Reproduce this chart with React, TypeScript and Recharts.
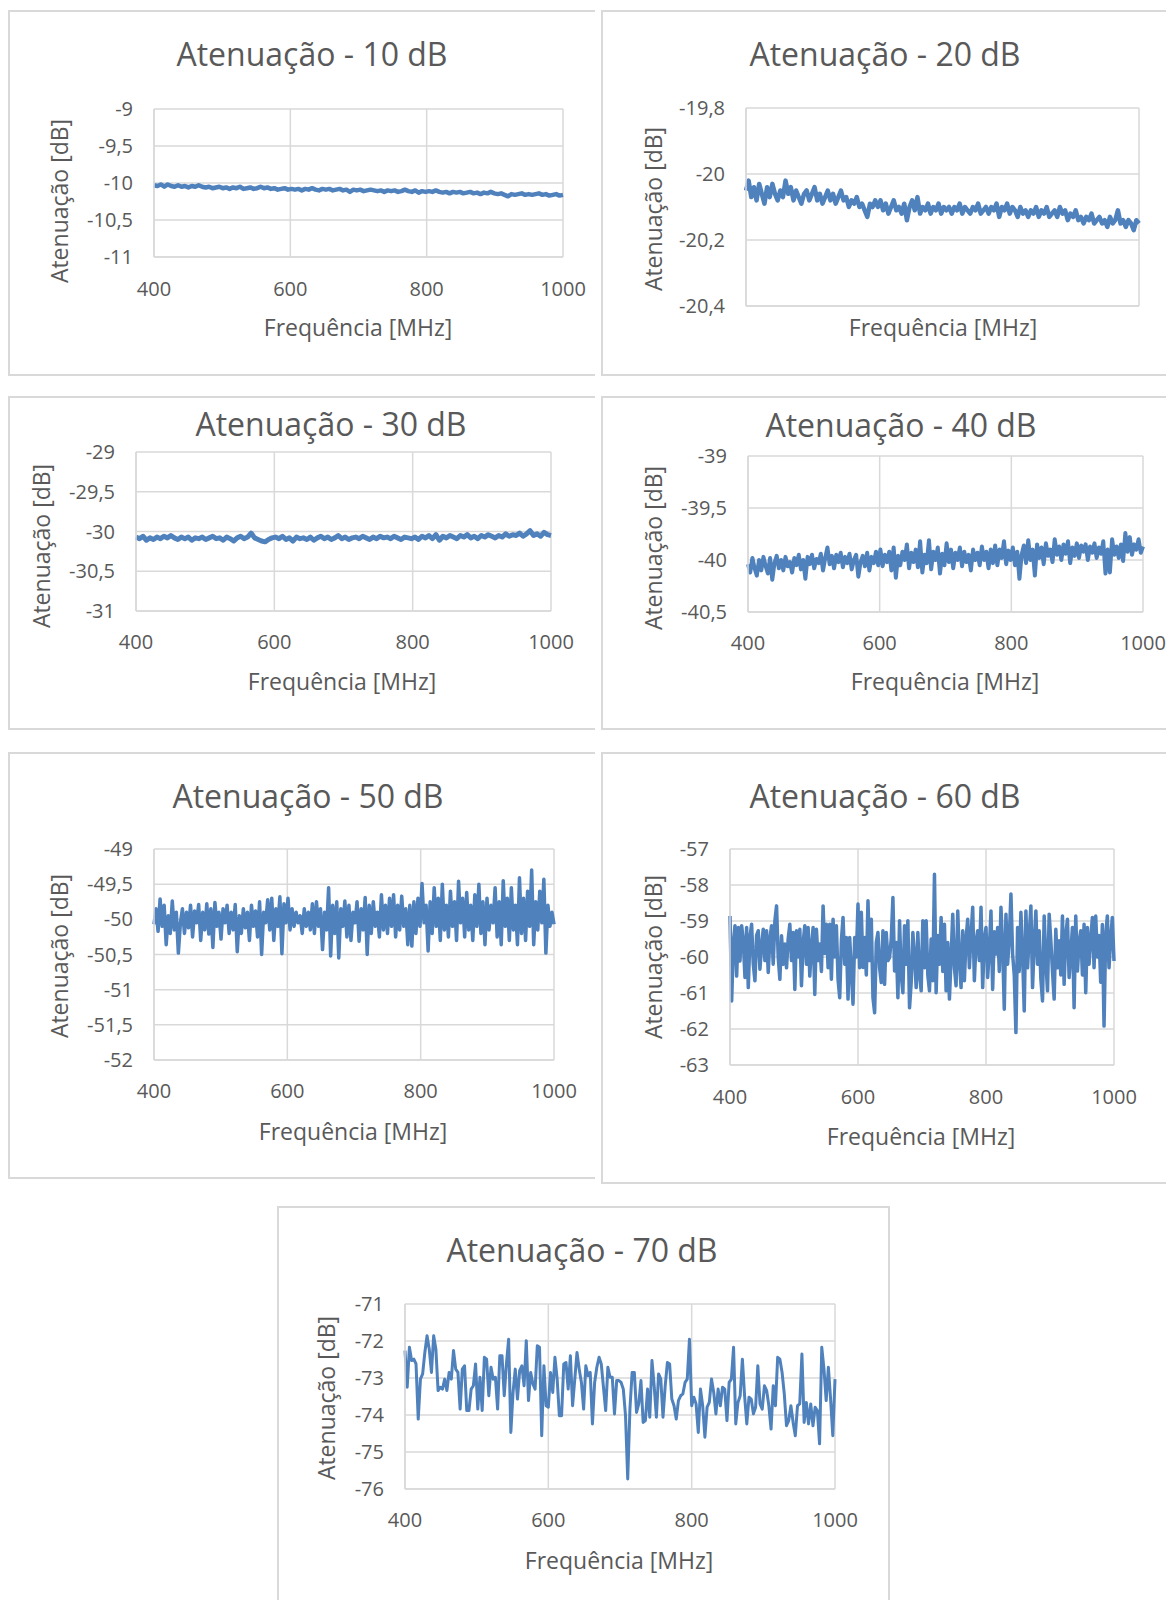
import React from "react";
import { LineChart, Line, XAxis, YAxis, CartesianGrid } from "recharts";

// frequency sweep used for every measurement (MHz)
const FREQ_START = 400;
const FREQ_STOP = 1000;
const FREQ_TICKS = [400, 600, 800, 1000];

const att10 = [
  -10.03, -10.04, -10.02, -10.05, -10.02, -10.04, -10.05, -10.03, -10.05, -10.04, -10.06, -10.04, -10.05, -10.03,
  -10.05, -10.06, -10.05, -10.07, -10.06, -10.05, -10.07, -10.06, -10.08, -10.06, -10.07, -10.05, -10.08, -10.07,
  -10.06, -10.08, -10.07, -10.05, -10.07, -10.06, -10.08, -10.07, -10.09, -10.08, -10.07, -10.09,
  -10.08, -10.09, -10.08, -10.1, -10.08, -10.09, -10.07, -10.09, -10.1, -10.08, -10.09, -10.08, -10.1, -10.09,
  -10.08, -10.1, -10.09, -10.12, -10.09, -10.1, -10.09, -10.11, -10.1, -10.09, -10.1, -10.11, -10.1, -10.12,
  -10.1, -10.11, -10.1, -10.12, -10.11, -10.09, -10.11, -10.12, -10.1, -10.13, -10.11, -10.12,
  -10.11, -10.12, -10.1, -10.12, -10.13, -10.12, -10.14, -10.12, -10.13, -10.12, -10.14, -10.13, -10.12, -10.14,
  -10.13, -10.15, -10.13, -10.14, -10.12, -10.14, -10.15, -10.14, -10.16, -10.18, -10.15, -10.16, -10.15, -10.14,
  -10.16, -10.15, -10.16, -10.15, -10.14, -10.16, -10.15, -10.17, -10.16, -10.15, -10.17, -10.16,
];

const att20 = [
  -20.05, -20.02, -20.07, -20.04, -20.08, -20.03, -20.06, -20.09, -20.04, -20.07, -20.03, -20.06, -20.08, -20.05,
  -20.07, -20.02, -20.06, -20.04, -20.08, -20.05, -20.07, -20.09, -20.06, -20.05, -20.08, -20.06, -20.04, -20.08,
  -20.06, -20.09, -20.07, -20.05, -20.08, -20.06, -20.09, -20.07, -20.05, -20.08, -20.07, -20.1, -20.08, -20.09,
  -20.07, -20.1, -20.09, -20.11, -20.13, -20.09, -20.1, -20.08,
  -20.1, -20.08, -20.11, -20.09, -20.12, -20.1, -20.08, -20.11, -20.1, -20.12, -20.09, -20.14, -20.1, -20.08,
  -20.11, -20.07, -20.12, -20.1, -20.11, -20.09, -20.12, -20.1, -20.11, -20.09, -20.12, -20.1, -20.11, -20.1,
  -20.12, -20.1, -20.11, -20.09, -20.12, -20.1, -20.11, -20.12, -20.1, -20.11, -20.09, -20.12, -20.11, -20.1,
  -20.12, -20.1, -20.11, -20.09, -20.13, -20.1, -20.11, -20.09,
  -20.12, -20.1, -20.11, -20.13, -20.1, -20.12, -20.11, -20.13, -20.11, -20.12, -20.1, -20.13, -20.11, -20.12,
  -20.1, -20.13, -20.12, -20.11, -20.13, -20.1, -20.12, -20.11, -20.14, -20.12, -20.13, -20.11, -20.14, -20.13,
  -20.15, -20.13, -20.14, -20.12, -20.15, -20.14, -20.13, -20.15, -20.14, -20.16, -20.13, -20.15, -20.14, -20.11,
  -20.15, -20.14, -20.16, -20.14, -20.15, -20.17, -20.14, -20.15,
];

const att30 = [
  -30.07, -30.09, -30.06, -30.11, -30.08, -30.1, -30.07, -30.09, -30.06, -30.08, -30.05, -30.08, -30.1, -30.07,
  -30.09, -30.07, -30.11, -30.08, -30.09, -30.07, -30.1, -30.08, -30.06, -30.09, -30.08, -30.11, -30.07, -30.09,
  -30.12, -30.08, -30.06, -30.09, -30.07, -30.02, -30.08, -30.1, -30.12, -30.13, -30.1, -30.08,
  -30.07, -30.09, -30.06, -30.1, -30.08, -30.12, -30.07, -30.09, -30.08, -30.1, -30.07, -30.11, -30.08, -30.06,
  -30.09, -30.07, -30.1, -30.08, -30.05, -30.09, -30.07, -30.1, -30.08, -30.07, -30.09, -30.06, -30.08, -30.1,
  -30.07, -30.09, -30.06, -30.08, -30.07, -30.09, -30.06, -30.08, -30.1, -30.07, -30.08, -30.09,
  -30.07, -30.1, -30.06, -30.08, -30.05, -30.09, -30.04, -30.11, -30.06, -30.08, -30.05, -30.07, -30.09, -30.05,
  -30.07, -30.04, -30.08, -30.06, -30.09, -30.05, -30.07, -30.04, -30.06, -30.08, -30.05, -30.07, -30.03, -30.06,
  -30.04, -30.05, -30.02, -30.06, -30.03, -29.99, -30.05, -30.03, -30.06, -30.01, -30.04, -30.05,
];

const att40 = [
  -40.04, -40.12, -39.98, -40.08, -40.15, -40.0, -40.1, -39.97, -40.06, -40.13, -39.98, -40.19, -40.03, -39.96,
  -40.08, -40.0, -40.1, -39.97, -40.06, -40.02, -40.12, -39.98, -40.05, -39.95, -40.09, -40.0, -40.18, -39.97,
  -40.04, -39.95, -40.08, -39.99, -40.03, -39.94, -40.1, -39.98, -39.88, -40.04, -39.96, -40.08, -39.95, -40.02,
  -39.93, -40.07, -39.97, -40.03, -39.94, -40.09, -40.0, -39.95, -40.16, -40.02, -39.96, -40.06, -39.93, -40.1,
  -39.97, -40.03, -39.92, -40.05,
  -39.9, -40.06, -39.95, -40.02, -39.92, -40.1, -39.88, -40.17, -39.96, -40.05, -39.92, -40.0, -39.85, -40.08,
  -39.93, -40.02, -39.9, -40.07, -39.82, -40.12, -39.95, -40.03, -39.81, -40.09, -39.92, -40.0, -39.88, -40.13,
  -39.94, -40.05, -39.84, -40.02, -39.9, -40.08, -39.93, -40.0, -39.88, -40.06, -39.92, -40.02, -39.95, -40.1,
  -39.9, -40.0, -39.93, -40.05, -39.87, -40.0, -39.92, -40.08, -39.9, -40.03, -39.86, -40.05, -39.9, -39.98,
  -39.82, -40.04, -39.91, -40.0,
  -39.88, -40.05, -39.92, -40.18, -39.95, -39.86, -40.03, -39.81, -40.0, -39.9, -40.15, -39.85, -39.98, -39.88,
  -40.04, -39.84, -39.96, -39.9, -40.02, -39.8, -39.95, -39.87, -40.0, -39.85, -39.94, -39.82, -40.03, -39.88,
  -39.96, -39.84, -39.98, -39.86, -39.92, -39.85, -40.0, -39.87, -39.93, -39.84, -39.98, -39.88, -39.94, -39.82,
  -40.13, -39.9, -40.12, -39.8, -39.95, -39.87, -39.98, -39.85, -40.01, -39.74, -39.92, -39.78, -39.95, -39.85,
  -39.9, -39.8, -39.93, -39.87,
];

const att50 = [
  -50.07, -49.85, -50.17, -49.71, -50.1, -49.8, -50.36, -49.95, -50.2, -49.74, -50.15, -49.9, -50.48, -50.05,
  -49.85, -50.2, -49.9, -50.12, -49.8, -50.25, -49.88, -50.05, -49.79, -50.3, -49.9, -50.15, -49.78, -50.21,
  -49.85, -50.4, -49.76, -50.1, -49.9, -50.28, -49.85, -50.05, -49.8, -50.2, -49.9, -50.15, -49.79, -50.46,
  -49.95, -50.2, -49.85, -50.12, -49.9, -50.3, -49.8, -50.1, -49.88, -50.25, -49.75, -50.5, -49.9, -50.05,
  -49.72, -50.15, -49.7, -50.3, -49.85, -50.1, -49.68, -50.49, -49.78,
  -50.05, -49.7, -50.15, -49.85, -50.1, -49.9, -50.05, -49.95, -50.2, -49.85, -50.1, -49.9, -50.15, -49.78,
  -50.2, -49.75, -50.1, -49.85, -50.43, -49.9, -50.15, -49.55, -50.52, -49.8, -50.2, -49.75, -50.55, -49.85,
  -50.1, -49.74, -50.25, -49.8, -50.3, -49.9, -50.05, -49.75, -50.31, -49.85, -50.15, -49.69, -50.5, -49.8,
  -50.2, -49.75, -50.1, -49.9, -50.25, -49.65, -50.15, -49.8, -50.2, -49.7, -50.1, -49.65, -50.25, -49.8,
  -50.15, -49.67, -50.1, -49.85, -50.36, -49.8, -50.38, -49.75,
  -50.2, -49.7, -50.1, -49.49, -50.05, -49.8, -50.45, -49.75, -50.2, -49.55, -50.1, -49.7, -50.3, -49.5,
  -50.15, -49.8, -50.25, -49.6, -50.1, -49.75, -50.3, -49.46, -50.05, -49.7, -50.25, -49.62, -50.15, -49.8,
  -50.3, -49.65, -50.1, -49.5, -50.2, -49.75, -50.36, -49.7, -50.15, -49.8, -50.05, -49.55, -50.25, -49.75,
  -50.36, -49.45, -50.1, -49.7, -50.3, -49.55, -50.15, -49.8, -50.36, -49.41, -50.2, -49.7, -50.3, -49.6,
  -50.1, -49.3, -50.36, -49.75, -50.15, -49.6, -50.05, -49.43, -50.48, -49.8, -50.1, -49.9, -50.07,
];

const att60 = [
  -58.86, -61.22, -59.64, -59.13, -60.53, -59.18, -60.11, -59.13, -59.55, -60.57, -59.18, -60.85, -59.46, -59.09,
  -60.2, -60.66, -59.4, -59.27, -60.34, -59.7, -59.23, -60.1, -59.27, -60.43, -59.5, -59.13, -60.2, -59.0,
  -58.58, -60.0, -60.62, -59.41, -60.2, -59.64, -60.3, -59.5, -59.09, -60.1, -59.32, -60.9, -59.27, -60.0,
  -59.23, -60.8, -59.6, -59.13, -60.2, -59.18, -60.53, -59.7, -59.18, -61.04, -59.23, -60.1, -59.64, -60.4,
  -58.58, -59.9, -59.09, -60.3, -59.09, -60.62, -58.95, -60.0, -59.13, -60.62, -61.13, -59.55, -58.9, -60.2,
  -59.46, -61.17, -59.46, -60.4, -61.31, -59.46, -60.0, -58.53, -60.3, -58.76, -60.29, -59.46, -60.5, -58.44,
  -60.1, -58.95, -61.13, -61.55, -59.6, -59.32, -60.3, -60.71, -59.27, -60.76, -59.32, -60.1, -60.01, -59.5,
  -58.35, -60.39, -59.6, -61.13, -58.99, -60.5, -60.99, -59.13, -60.2, -58.99, -61.41, -60.71, -59.32, -60.0,
  -60.85, -59.32, -60.5, -60.94, -58.99,
  -60.3, -58.99, -60.5, -60.94, -59.5, -60.66, -57.7, -60.99, -59.4, -60.2, -58.9, -60.4, -59.09, -60.94,
  -59.6, -61.17, -60.01, -58.81, -60.3, -60.8, -58.72, -60.1, -60.85, -59.27, -60.66, -59.5, -58.95, -60.3,
  -59.4, -58.62, -60.66, -59.6, -59.27, -60.1, -58.62, -60.85, -59.5, -59.18, -60.57, -59.8, -58.72, -60.9,
  -59.3, -59.92, -59.18, -60.4, -58.62, -59.7, -61.45, -58.81, -60.2, -59.5, -58.25, -59.92, -60.5, -62.1,
  -59.18, -60.4, -58.76, -59.9, -61.5, -58.72, -60.3, -59.4, -58.58, -60.85, -59.6, -58.72, -60.2, -59.27,
  -60.6, -61.22, -58.86, -60.1, -60.94, -58.81, -59.55, -60.4, -61.17, -59.23, -60.3, -59.55, -60.5, -58.86,
  -60.76, -59.4, -58.95, -60.57, -59.9, -59.18, -61.41, -58.86, -60.39, -59.6, -59.27, -60.5, -59.09, -60.99,
  -59.18, -60.2, -59.5, -58.9, -60.3, -58.86, -60.0, -59.4, -60.7, -59.1, -61.92, -59.41, -58.86, -60.3,
  -59.5, -58.9, -60.11,
];

const att70 = [
  -72.26, -73.25, -72.17, -72.53, -72.49, -72.62, -74.11, -73.03, -72.89, -72.31, -71.86, -72.22, -72.85, -71.86,
  -72.22, -73.34, -73.25, -73.3, -73.03, -73.34, -72.85, -73.03, -72.26, -72.76, -72.85, -73.84, -72.76, -72.67,
  -73.88, -73.88, -73.3, -73.21, -72.62, -73.84, -72.98, -73.88, -72.44, -72.49, -73.48, -72.71, -73.03, -72.98,
  -73.84, -72.4, -72.4, -73.48, -72.62, -71.95, -74.47, -73.39, -72.76, -73.57, -72.8, -72.67, -73.21, -71.99,
  -73.61, -72.85, -73.16, -73.3, -72.13, -72.17, -74.56, -72.67, -73.75, -73.79, -72.85, -73.39, -72.44, -73.03,
  -74.02, -74.02, -72.62, -72.58, -73.3, -72.4, -73.75, -73.03, -72.31, -72.76, -73.12, -73.84, -72.67, -72.94,
  -72.85, -74.24, -73.12, -72.71, -72.44, -72.62, -73.25, -73.88, -72.71, -72.98, -72.98, -73.97, -73.07, -73.07,
  -73.12, -73.3, -74.02, -75.73, -73.84, -72.85, -72.85, -73.93, -73.7, -73.07, -74.2, -74.15, -73.3, -74.06,
  -72.53, -73.21, -74.06, -72.89, -73.03, -74.06, -73.21, -72.58, -72.62, -73.57, -73.75, -74.11, -73.61, -73.48,
  -73.43, -73.12, -73.03, -71.95, -73.75, -73.52, -73.7, -74.47, -73.3, -73.75, -74.6, -73.79, -73.66, -73.03,
  -73.39, -73.97, -73.3, -73.75, -73.25, -73.3, -74.15, -73.12, -73.03, -72.17, -74.24, -73.66, -73.48, -72.49,
  -73.48, -74.24, -73.52, -73.57, -73.97, -73.79, -72.67, -73.7, -73.84, -73.21, -73.34, -73.75, -74.38, -73.21,
  -73.75, -72.44, -72.49, -72.85, -73.43, -74.29, -74.15, -73.75, -74.2, -74.56, -73.75, -73.7, -72.35, -74.2,
  -73.66, -74.24, -73.7, -74.29, -73.79, -73.88, -74.78, -72.17, -72.76, -73.61, -72.71, -73.57, -74.56, -73.03,
];

// y-axis ticks of each chart
const ticks10 = [-11, -10.5, -10, -9.5, -9];
const ticks20 = [-20.4, -20.2, -20, -19.8];
const ticks30 = [-31, -30.5, -30, -29.5, -29];
const ticks40 = [-40.5, -40, -39.5, -39];
const ticks50 = [-52, -51.5, -51, -50.5, -50, -49.5, -49];
const ticks60 = [-63, -62, -61, -60, -59, -58, -57];
const ticks70 = [-76, -75, -74, -73, -72, -71];

const X_TITLE = "Frequência [MHz]";
const Y_TITLE = "Atenuação [dB]";

const FONT = "'Open Sans', 'Segoe UI', sans-serif";
const TEXT = "#595959";
const GRID = "#d9d9d9";
const BLUE = "#4f81bd";
const Y_W = 80;
const X_H = 40;

// box = panel frame, plot = plotting area, t/xl/yl = text centres (page px)
const panels = [
  { title: "Atenuação - 10 dB", values: att10, ticks: ticks10, xLabels: true, right: false, sw: 4.5,
    box: { x: 8, y: 10, w: 587, h: 366 }, plot: { l: 154, t: 109, r: 563, b: 257 }, xm: 25,
    t: [312, 54], xl: [358, 327], yl: [59, 201] },
  { title: "Atenuação - 20 dB", values: att20, ticks: ticks20, xLabels: false, right: false, sw: 4.5,
    box: { x: 601, y: 10, w: 576, h: 366 }, plot: { l: 746, t: 108, r: 1139, b: 306 }, xm: 25,
    t: [885, 54], xl: [943, 327], yl: [653, 209] },
  { title: "Atenuação - 30 dB", values: att30, ticks: ticks30, xLabels: true, right: false, sw: 5,
    box: { x: 8, y: 396, w: 587, h: 334 }, plot: { l: 136, t: 452, r: 551, b: 611 }, xm: 24,
    t: [331, 424], xl: [342, 681], yl: [41, 546] },
  { title: "Atenuação - 40 dB", values: att40, ticks: ticks40, xLabels: true, right: false, sw: 4,
    box: { x: 601, y: 396, w: 576, h: 334 }, plot: { l: 748, t: 456, r: 1143, b: 612 }, xm: 24,
    t: [901, 425], xl: [945, 681], yl: [653, 548] },
  { title: "Atenuação - 50 dB", values: att50, ticks: ticks50, xLabels: true, right: false, sw: 3.5,
    box: { x: 8, y: 752, w: 587, h: 427 }, plot: { l: 154, t: 849, r: 554, b: 1060 }, xm: 24,
    t: [308, 796], xl: [353, 1131], yl: [59, 956] },
  { title: "Atenuação - 60 dB", values: att60, ticks: ticks60, xLabels: true, right: false, sw: 3.5,
    box: { x: 601, y: 752, w: 576, h: 432 }, plot: { l: 730, t: 849, r: 1114, b: 1065 }, xm: 25,
    t: [885, 796], xl: [921, 1136], yl: [653, 957] },
  { title: "Atenuação - 70 dB", values: att70, ticks: ticks70, xLabels: true, right: true, sw: 3,
    box: { x: 277, y: 1206, w: 613, h: 400 }, plot: { l: 405, t: 1304, r: 835, b: 1489 }, xm: 24,
    t: [582, 1250], xl: [619, 1560], yl: [326, 1398] },
];

const toPoints = (vals: number[]) =>
  vals.map((v, i) => ({
    freq: FREQ_START + (i * (FREQ_STOP - FREQ_START)) / (vals.length - 1),
    att: v,
  }));

const fmt = (v: number) => String(v).replace(".", ",");

const Txt = ({ x, y, size, rotate, children }: any) => (
  <div
    style={{
      position: "absolute",
      left: x,
      top: y,
      transform: `translate(-50%, -50%)${rotate ? " rotate(-90deg)" : ""}`,
      fontSize: size,
      fontFamily: FONT,
      color: TEXT,
      whiteSpace: "nowrap",
      lineHeight: 1,
    }}
  >
    {children}
  </div>
);

const Panel = ({ p }: any) => {
  const { box, plot } = p;
  const data = toPoints(p.values);
  const lo = p.ticks[0];
  const hi = p.ticks[p.ticks.length - 1];
  return (
    <>
      <div
        style={{
          position: "absolute",
          left: box.x,
          top: box.y,
          width: box.w,
          height: box.h,
          boxSizing: "border-box",
          borderTop: `2px solid ${GRID}`,
          borderLeft: `2px solid ${GRID}`,
          borderBottom: `2px solid ${GRID}`,
          borderRight: p.right ? `2px solid ${GRID}` : "none",
        }}
      />
      <div style={{ position: "absolute", left: box.x, top: box.y }}>
        <LineChart
          width={box.w}
          height={box.h}
          data={data}
          margin={{
            top: plot.t - box.y,
            right: box.x + box.w - plot.r,
            bottom: box.y + box.h - plot.b - X_H,
            left: plot.l - box.x - Y_W,
          }}
        >
          <CartesianGrid stroke={GRID} strokeWidth={1.5} />
          <XAxis
            type="number"
            dataKey="freq"
            domain={[FREQ_START, FREQ_STOP]}
            ticks={FREQ_TICKS}
            interval={0}
            height={X_H}
            tick={p.xLabels ? { fill: TEXT, fontSize: 20, fontFamily: FONT } : false}
            tickLine={false}
            tickSize={0}
            tickMargin={p.xm}
            axisLine={{ stroke: GRID, strokeWidth: 1.5 }}
          />
          <YAxis
            type="number"
            domain={[lo, hi]}
            ticks={p.ticks}
            interval={0}
            width={Y_W}
            tickFormatter={fmt}
            tick={{ fill: TEXT, fontSize: 20, fontFamily: FONT }}
            tickLine={false}
            tickSize={0}
            tickMargin={21}
            axisLine={{ stroke: GRID, strokeWidth: 1.5 }}
          />
          <Line
            type="linear"
            dataKey="att"
            stroke={BLUE}
            strokeWidth={p.sw}
            strokeLinejoin="round"
            dot={false}
            activeDot={false}
            isAnimationActive={false}
          />
        </LineChart>
      </div>
      <Txt x={p.t[0]} y={p.t[1]} size={32}>{p.title}</Txt>
      <Txt x={p.xl[0]} y={p.xl[1]} size={23}>{X_TITLE}</Txt>
      <Txt x={p.yl[0]} y={p.yl[1]} size={23} rotate>{Y_TITLE}</Txt>
    </>
  );
};

export default function App() {
  return (
    <div
      style={{
        position: "absolute",
        left: 0,
        top: 0,
        width: 1166,
        height: 1600,
        overflow: "hidden",
        background: "#ffffff",
        fontFamily: FONT,
      }}
    >
      {panels.map((p) => (
        <Panel key={p.title} p={p} />
      ))}
    </div>
  );
}
